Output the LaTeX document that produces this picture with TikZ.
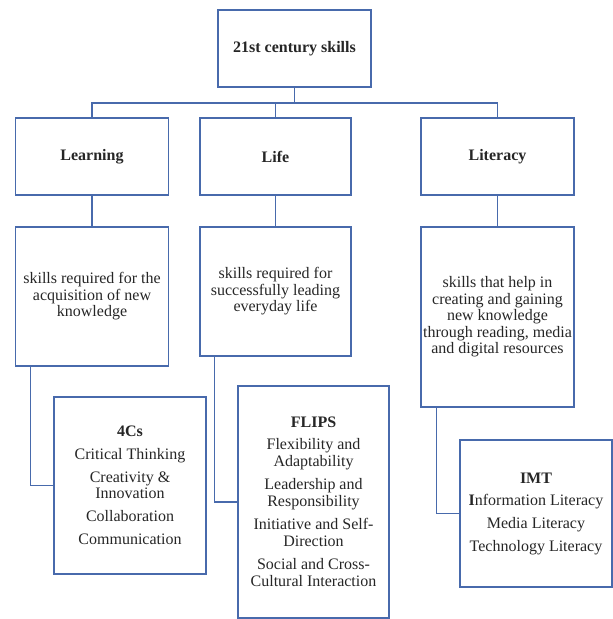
\documentclass[tikz,border=0pt]{standalone}
\usepackage{fontspec}
\setmainfont{Liberation Serif}
\definecolor{boxblue}{RGB}{72,106,172}
\begin{document}
\begin{tikzpicture}[x=1pt,y=-1pt,
  box/.style={draw=boxblue,line width=1.5pt,rectangle,inner sep=0pt,align=center,
    font=\fontsize{16}{16.5}\selectfont,text=black!85},
  conn/.style={draw=boxblue,line width=1.5pt}]
\useasboundingbox (0,0) rectangle (613,619);
\node[box,minimum width=153pt,minimum height=77pt] (top) at (294.5,48.5) {\textbf{21st century skills}};
\node[box,minimum width=153pt,minimum height=77pt] (learn) at (92,156.5) {\textbf{Learning}};
\node[box,minimum width=151pt,minimum height=77pt] (life) at (275.5,156.5) {\textbf{Life}};
\node[box,minimum width=153pt,minimum height=77pt] (lit) at (497.5,156.5) {\textbf{Literacy}};
\node[box,minimum width=153pt,minimum height=139pt] (learnd) at (92,296.5) {skills required for the\\acquisition of new\\knowledge};
\node[box,minimum width=151pt,minimum height=129pt] (lifed) at (275.5,291.5) {skills required for\\successfully leading\\everyday life};
\node[box,minimum width=153pt,minimum height=180pt] (litd) at (497.5,317) {skills that help in\\creating and gaining\\new knowledge\\through reading, media\\and digital resources};
\node[box,minimum width=152pt,minimum height=177pt] (fourc) at (130,485.5) {\textbf{4Cs}\\[6pt]Critical Thinking\\[6.5pt]Creativity \&\\Innovation\\[6.5pt]Collaboration\\[6.5pt]Communication};
\node[box,minimum width=151pt,minimum height=232pt] (flips) at (313.5,502) {\textbf{FLIPS}\\[5.5pt]Flexibility and\\Adaptability\\[7pt]Leadership and\\Responsibility\\[7pt]Initiative and Self-\\Direction\\[7pt]Social and Cross-\\Cultural Interaction};
\node[box,minimum width=152pt,minimum height=147pt] (imt) at (536,513.5) {\textbf{IMT}\\[5.5pt]\textbf{I}nformation Literacy\\[6.5pt]Media Literacy\\[6.5pt]Technology Literacy};
\coordinate (bus) at (294.5,103);
\draw[conn] (top.south) -- (bus);
\draw[conn] (learn.north) |- (bus) -| (lit.north);
\draw[conn] (life.north) -- (life.north |- bus);
\draw[conn] (learn.south) -- (learnd.north);
\draw[conn] (life.south) -- (lifed.north);
\draw[conn] (lit.south) -- (litd.north);
\draw[conn] (fourc.west) -| ([xshift=15.5pt]learnd.south west);
\draw[conn] (flips.west) -| ([xshift=15pt]lifed.south west);
\draw[conn] (imt.west) -| ([xshift=16pt]litd.south west);
\end{tikzpicture}
\end{document}
